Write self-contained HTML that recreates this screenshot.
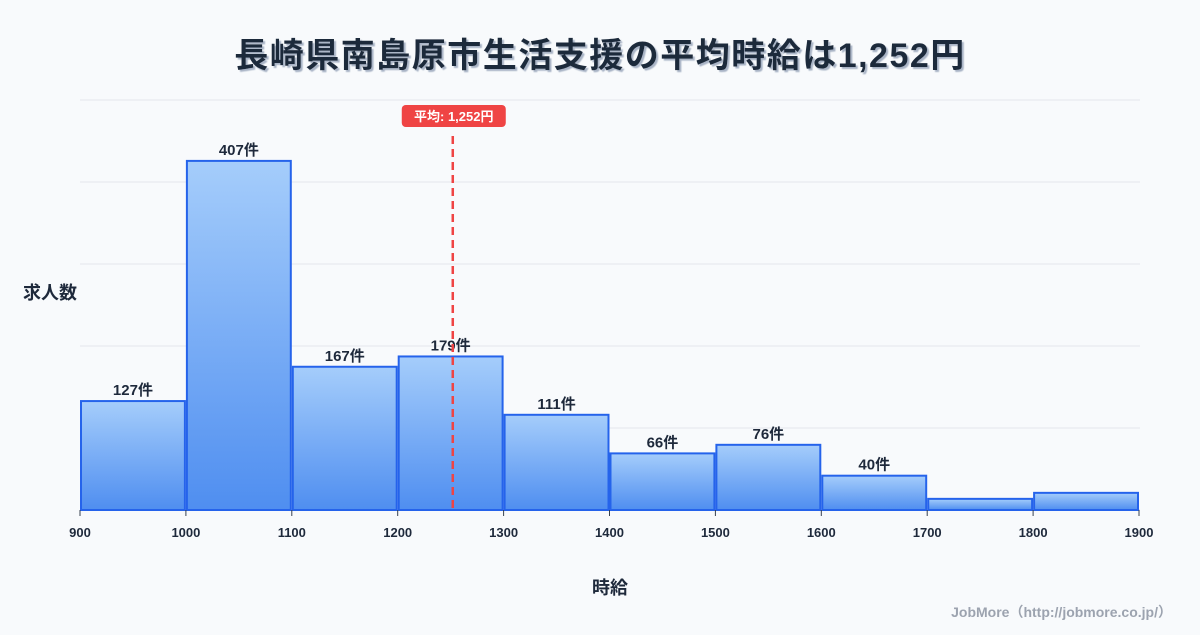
<!DOCTYPE html>
<html><head><meta charset="utf-8">
<style>
body{margin:0;background:#f8fafc;font-family:"Liberation Sans","Noto Sans CJK JP",sans-serif;}
svg text{font-family:"Liberation Sans","Noto Sans CJK JP",sans-serif;}
</style></head>
<body>
<svg id="c" width="1200" height="630" xmlns="http://www.w3.org/2000/svg">
<defs>
<linearGradient id="g" x1="0" y1="0" x2="0" y2="1"><stop offset="0" stop-color="#a5cdfb"/><stop offset="1" stop-color="#4f8ef0"/></linearGradient>
<filter id="sh"><feDropShadow dx="2" dy="2" stdDeviation="0.5" flood-color="#94a3b8" flood-opacity="0.8"/></filter>
</defs>
<rect width="1200" height="630" fill="#f8fafc"/>
<text x="600" y="67" text-anchor="middle" font-size="34" letter-spacing="1.5" font-weight="bold" fill="#1e293b" filter="url(#sh)">長崎県南島原市生活支援の平均時給は1,252円</text>
<g id="grid"></g><g id="bars"></g><g id="xt"></g>
<text x="50" y="299" text-anchor="middle" font-size="18" font-weight="bold" fill="#1e293b">求人数</text>
<text x="610" y="594" text-anchor="middle" font-size="18" font-weight="bold" fill="#1e293b">時給</text>
<text x="1172" y="617" text-anchor="end" font-size="14" font-weight="bold" fill="#9ca3af">JobMore（http://jobmore.co.jp/）</text>
<g id="mean"></g>
</svg>
<script>
const binStarts=[900,1000,1100,1200,1300,1400,1500,1600,1700,1800];
const counts=[127,407,167,179,111,66,76,40,13,20];
const showLabel=[true,true,true,true,true,true,true,true,false,false];
const xTicks=[900,1000,1100,1200,1300,1400,1500,1600,1700,1800,1900];
const meanValue=1252;
const NS="http://www.w3.org/2000/svg";
const X=v=>80+(v-900)*(1059/1000);
const Y=v=>510-v*(410/478);
function mk(t,a,p){const e=document.createElementNS(NS,t);for(const k in a)e.setAttribute(k,a[k]);p.appendChild(e);return e;}
const grid=document.getElementById('grid');
for(let i=0;i<=5;i++){const y=510-i*82;const l=mk('line',{x1:80,x2:1140,y1:y,y2:y,stroke:i==0?'#cbd5e1':'#e5e7eb','stroke-width':1},grid);

}
const bars=document.getElementById('bars');
binStarts.forEach((b,i)=>{
const x0=X(b)+1,x1=X(b+100)-1,y=Y(counts[i]);
const r=mk('rect',{x:x0,y:y,width:x1-x0,height:510-y,fill:'url(#g)',stroke:'#2563eb','stroke-width':2},bars);


if(showLabel[i]){const t=mk('text',{x:(x0+x1)/2,y:y-6,'text-anchor':'middle','font-size':15,'font-weight':'bold',fill:'#1e293b'},bars);t.textContent=counts[i]+'件';

}
});
const xt=document.getElementById('xt');
xTicks.forEach(v=>{mk('line',{x1:X(v),x2:X(v),y1:510,y2:516,stroke:'#374151','stroke-width':1},xt);
const t=mk('text',{x:X(v),y:537,'text-anchor':'middle','font-size':13,'font-weight':'bold',fill:'#1e293b'},xt);t.textContent=v;

});
const m=document.getElementById('mean');const mx=X(meanValue);
const ml=mk('line',{x1:mx,x2:mx,y1:136,y2:510,stroke:'#ef4444','stroke-width':2.5,'stroke-dasharray':'8,5'},m);


const mb=mk('rect',{x:mx-51,y:105,width:104,height:22,rx:4,fill:'#ef4444'},m);


const mt=mk('text',{x:mx+1,y:121,'text-anchor':'middle','font-size':13,'font-weight':'bold',fill:'#fff'},m);mt.textContent='平均: 1,252円';


</script>
</body></html>
